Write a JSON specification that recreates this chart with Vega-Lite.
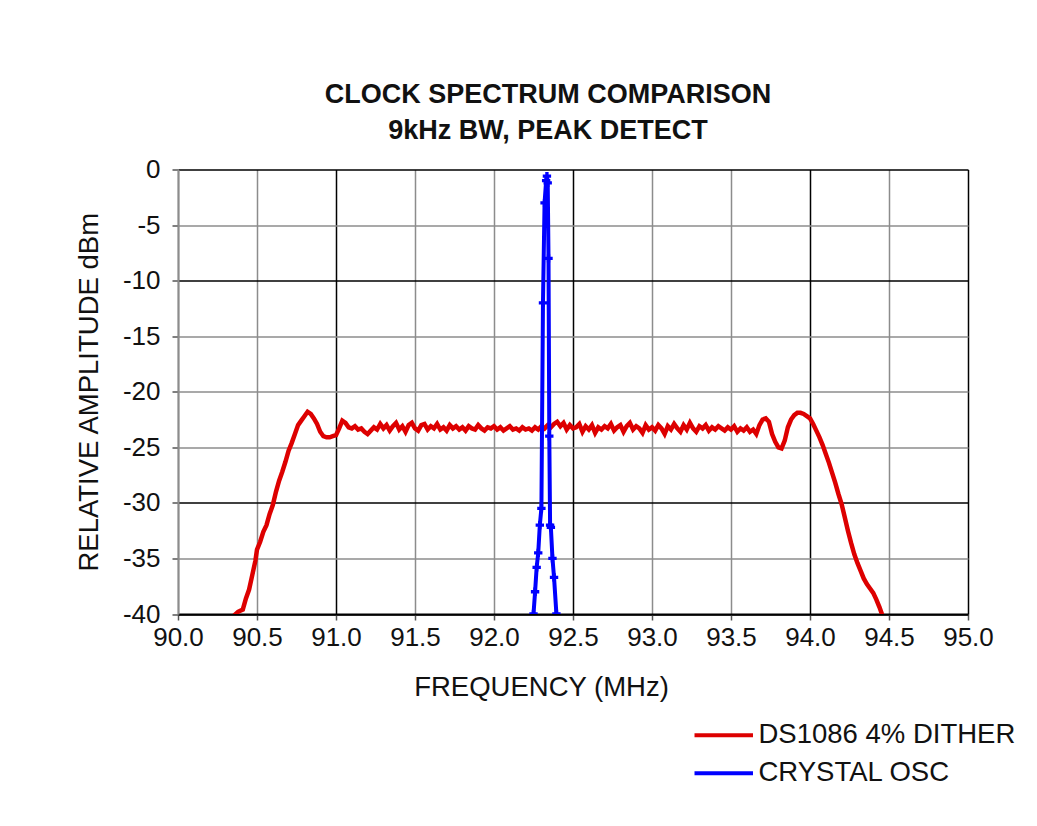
{
  "$schema": "https://vega.github.io/schema/vega-lite/v6.json",
  "autosize": {"type": "none"},
  "padding": {"left": 178, "top": 169.5, "right": 69, "bottom": 212},
  "width": 790,
  "height": 444.5,
  "background": "white",
  "title": {
    "text": ["CLOCK SPECTRUM COMPARISON", "9kHz BW, PEAK DETECT"],
    "font": "Liberation Sans",
    "fontSize": 27,
    "fontWeight": "bold",
    "lineHeight": 36,
    "color": "#111",
    "anchor": "middle",
    "dx": -25,
    "offset": 12
  },
  "config": {
    "view": {"stroke": null},
    "font": "Liberation Sans"
  },
  "datasets": {
    "dither": [
      [90.35,-40.2],[90.38,-39.8],[90.41,-39.6],[90.43,-38.6],[90.45,-37.8],[90.47,-36.5],[90.49,-35.2],[90.50,-34.2],[90.52,-33.5],[90.54,-32.6],[90.56,-32.0],[90.58,-31.0],[90.60,-30.2],[90.62,-29.0],[90.64,-28.0],[90.66,-27.2],[90.68,-26.3],[90.70,-25.3],[90.72,-24.6],[90.74,-23.8],[90.76,-23.0],[90.78,-22.6],[90.80,-22.2],[90.82,-21.8],[90.84,-22.0],[90.86,-22.4],[90.88,-22.9],[90.90,-23.6],[90.92,-24.0],[90.94,-24.1],[90.96,-24.1],[90.98,-24.0],[91.00,-23.9],[91.02,-23.3],[91.04,-22.6],[91.06,-22.8],[91.08,-23.2],[91.10,-23.3],[91.12,-23.1],[91.14,-23.4],[91.16,-23.3],[91.18,-23.6],[91.20,-23.8],[91.22,-23.5],[91.24,-23.2],[91.26,-23.4],[91.28,-22.9],[91.30,-23.3],[91.32,-23.0],[91.34,-23.5],[91.36,-23.1],[91.38,-22.8],[91.40,-23.4],[91.42,-23.1],[91.44,-23.6],[91.46,-23.0],[91.48,-22.8],[91.50,-23.3],[91.52,-23.5],[91.54,-23.0],[91.56,-22.9],[91.58,-23.4],[91.60,-23.1],[91.62,-23.3],[91.64,-22.9],[91.66,-23.4],[91.68,-23.2],[91.70,-23.5],[91.72,-23.0],[91.74,-23.3],[91.76,-23.1],[91.78,-23.4],[91.80,-23.2],[91.82,-23.5],[91.84,-23.1],[91.86,-23.3],[91.88,-23.4],[91.90,-23.0],[91.92,-23.3],[91.94,-23.5],[91.96,-23.2],[91.98,-23.3],[92.00,-23.1],[92.02,-23.4],[92.04,-23.2],[92.06,-23.5],[92.08,-23.3],[92.10,-23.1],[92.12,-23.4],[92.14,-23.3],[92.16,-23.5],[92.18,-23.2],[92.20,-23.4],[92.22,-23.3],[92.24,-23.5],[92.26,-23.2],[92.28,-23.4],[92.30,-23.1],[92.32,-23.3],[92.34,-23.0],[92.36,-23.2],[92.38,-22.9],[92.40,-22.7],[92.42,-23.1],[92.44,-22.8],[92.46,-23.4],[92.48,-23.0],[92.50,-23.3],[92.52,-23.2],[92.54,-22.9],[92.56,-23.6],[92.58,-23.1],[92.60,-23.4],[92.62,-23.0],[92.64,-23.7],[92.66,-23.2],[92.68,-23.4],[92.70,-23.1],[92.72,-23.3],[92.74,-22.9],[92.76,-23.5],[92.78,-23.2],[92.80,-23.0],[92.82,-23.6],[92.84,-23.1],[92.86,-22.8],[92.88,-23.4],[92.90,-23.1],[92.92,-23.3],[92.94,-23.7],[92.96,-23.0],[92.98,-23.4],[93.00,-23.2],[93.02,-23.5],[93.04,-23.0],[93.06,-23.3],[93.08,-23.8],[93.10,-23.1],[93.12,-23.4],[93.14,-22.9],[93.16,-23.3],[93.18,-23.6],[93.20,-23.0],[93.22,-23.4],[93.24,-22.8],[93.26,-23.3],[93.28,-23.6],[93.30,-23.1],[93.32,-23.3],[93.34,-23.0],[93.36,-23.5],[93.38,-23.2],[93.40,-23.4],[93.42,-23.1],[93.44,-23.3],[93.46,-23.5],[93.48,-23.2],[93.50,-23.4],[93.52,-23.1],[93.54,-23.6],[93.56,-23.3],[93.58,-23.5],[93.60,-23.2],[93.62,-23.6],[93.64,-23.4],[93.66,-23.8],[93.68,-23.0],[93.70,-22.5],[93.72,-22.4],[93.74,-22.7],[93.76,-23.8],[93.78,-24.5],[93.80,-25.0],[93.82,-25.1],[93.84,-24.4],[93.86,-23.2],[93.88,-22.5],[93.90,-22.1],[93.92,-21.9],[93.94,-21.9],[93.96,-22.0],[93.98,-22.2],[94.00,-22.4],[94.02,-22.9],[94.04,-23.5],[94.06,-24.1],[94.08,-24.8],[94.10,-25.6],[94.12,-26.4],[94.14,-27.3],[94.16,-28.2],[94.18,-29.2],[94.20,-30.1],[94.22,-31.3],[94.24,-32.5],[94.26,-33.6],[94.28,-34.6],[94.30,-35.4],[94.32,-36.1],[94.34,-36.8],[94.36,-37.3],[94.38,-37.7],[94.40,-38.1],[94.42,-38.7],[94.44,-39.4],[94.46,-40.2]
    ],
    "crystal": [
      [92.25,-40.0],[92.26,-38.0],[92.27,-35.8],[92.28,-34.5],[92.29,-32.0],[92.30,-30.5],[92.31,-12.0],[92.32,-3.0],[92.33,-1.0],[92.335,-0.6],[92.34,-1.2],[92.345,-8.0],[92.35,-24.0],[92.355,-32.0],[92.36,-32.2],[92.37,-35.0],[92.38,-36.7],[92.395,-40.0]
    ]
  },
  "data": {"name": "dither"},
  "layer": [
    {
      "data": {"name": "dither"},
      "transform": [
        {"calculate": "datum[0]", "as": "freq"},
        {"calculate": "datum[1]", "as": "amp"},
        {"calculate": "'DS1086 4% DITHER'", "as": "series"}
      ],
      "mark": {"type": "line", "strokeWidth": 4.5, "clip": true},
      "encoding": {
        "x": {"field": "freq", "type": "quantitative"},
        "y": {"field": "amp", "type": "quantitative"},
        "color": {"field": "series", "type": "nominal"}
      }
    },
    {
      "data": {"name": "crystal"},
      "transform": [
        {"calculate": "datum[0]", "as": "freq"},
        {"calculate": "datum[1]", "as": "amp"},
        {"calculate": "'CRYSTAL OSC'", "as": "series"}
      ],
      "layer": [
        {
          "mark": {"type": "line", "strokeWidth": 4, "clip": true},
          "encoding": {
            "x": {"field": "freq", "type": "quantitative"},
            "y": {"field": "amp", "type": "quantitative"},
            "color": {"field": "series", "type": "nominal"}
          }
        },
        {
          "mark": {"type": "point", "shape": "cross", "size": 70, "filled": true, "opacity": 1, "clip": true},
          "encoding": {
            "x": {"field": "freq", "type": "quantitative"},
            "y": {"field": "amp", "type": "quantitative"},
            "color": {"field": "series", "type": "nominal"}
          }
        }
      ]
    }
  ],
  "encoding": {
    "x": {
      "field": "freq",
      "type": "quantitative",
      "scale": {"domain": [90, 95], "nice": false, "zero": false},
      "axis": {
        "title": "FREQUENCY (MHz)",
        "values": [90, 90.5, 91, 91.5, 92, 92.5, 93, 93.5, 94, 94.5, 95],
        "format": ".1f",
        "grid": true,
        "gridColor": {"condition": {"test": "indexof([91, 92.5, 94, 95], datum.value) >= 0", "value": "#000000"}, "value": "#8c8c8c"},
        "gridWidth": 1.5,
        "gridOpacity": 1,
        "domain": true,
        "domainColor": "#000000",
        "domainWidth": 2,
        "ticks": true,
        "tickSize": 6,
        "tickColor": "#555555",
        "tickWidth": 1.5,
        "labelFont": "Liberation Sans",
        "labelFontSize": 26,
        "labelColor": "#111111",
        "labelPadding": 4,
        "labelFlush": false,
        "labelOverlap": false,
        "titleFont": "Liberation Sans",
        "titleFontSize": 27.5,
        "titleFontWeight": "normal",
        "titleColor": "#111111",
        "titleX": 363,
        "titlePadding": 23
      }
    },
    "y": {
      "field": "amp",
      "type": "quantitative",
      "scale": {"domain": [-40, 0], "nice": false, "zero": false},
      "axis": {
        "title": "RELATIVE AMPLITUDE dBm",
        "values": [0, -5, -10, -15, -20, -25, -30, -35, -40],
        "labelExpr": "'' + datum.value",
        "grid": true,
        "gridColor": {"condition": {"test": "indexof([0, -10, -30, -40], datum.value) >= 0", "value": "#000000"}, "value": "#8c8c8c"},
        "gridWidth": 1.5,
        "gridOpacity": 1,
        "domain": true,
        "domainColor": "#8c8c8c",
        "domainWidth": 2,
        "ticks": true,
        "tickSize": 6,
        "tickColor": "#555555",
        "tickWidth": 1.5,
        "labelFont": "Liberation Sans",
        "labelFontSize": 26,
        "labelColor": "#111111",
        "labelPadding": 12,
        "labelFlush": false,
        "labelOverlap": false,
        "titleFont": "Liberation Sans",
        "titleFontSize": 27.5,
        "titleFontWeight": "normal",
        "titleColor": "#111111",
        "titlePadding": 19
      }
    },
    "color": {
      "field": "series",
      "type": "nominal",
      "scale": {"domain": ["DS1086 4% DITHER", "CRYSTAL OSC"], "range": ["#dd0000", "#0000ff"]},
      "legend": {
        "orient": "none",
        "legendX": 532,
        "legendY": 552,
        "title": null,
        "symbolType": "M-3,0H3",
        "symbolSize": 380,
        "symbolStrokeWidth": 4,
        "labelFont": "Liberation Sans",
        "labelFontSize": 27.5,
        "labelColor": "#111111",
        "labelLimit": 0,
        "labelOffset": 21,
        "rowPadding": 9
      }
    }
  }
}
